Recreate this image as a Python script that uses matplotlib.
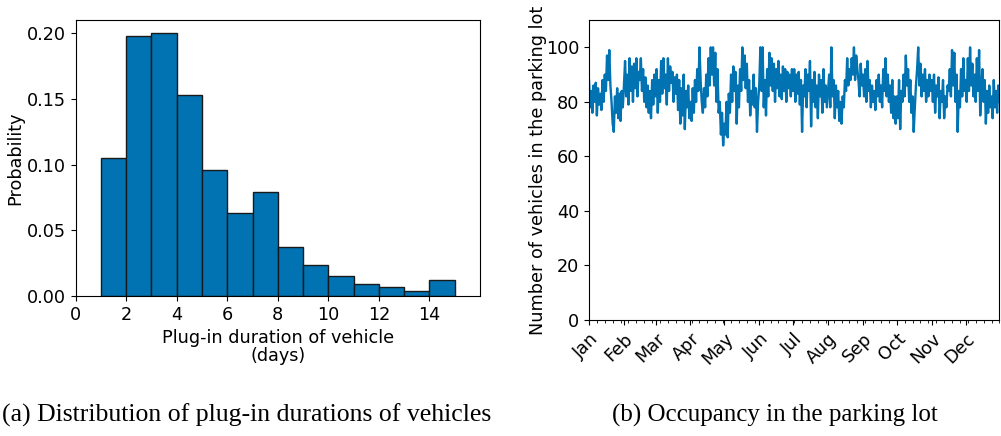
"""
Plug-in durations histogram and parking lot occupancy over a year
"""
import numpy as np
import pandas as pd
import matplotlib
matplotlib.use("Agg")
import matplotlib.pyplot as plt
import matplotlib.dates as mdates
from matplotlib.ticker import FormatStrFormatter

# histogram of plug-in durations (bin edges in days, probability per bin)
bin_edges = list(range(1, 16))
probabilities = [0.105, 0.198, 0.200, 0.153, 0.096, 0.063, 0.079,
                 0.037, 0.024, 0.015, 0.009, 0.007, 0.004, 0.012]

# daily occupancy, one list per month
jan = [88, 78, 84, 76, 86, 80, 87, 75, 85, 79, 83, 77, 88, 80, 90, 84, 97, 88, 99, 86, 80, 72, 69, 82, 76, 85, 74, 83, 73, 84, 78]
feb = [86, 95, 82, 90, 79, 96, 84, 93, 80, 94, 85, 96, 82, 91, 88, 96, 84, 92, 80, 89, 78, 86, 76, 84, 74, 88, 79, 90]
mar = [82, 92, 76, 88, 80, 95, 83, 96, 85, 90, 79, 96, 84, 93, 87, 91, 80, 89, 83, 90, 77, 88, 72, 85, 75, 90, 70, 84, 78, 86, 74]
apr = [80, 73, 85, 76, 88, 80, 92, 84, 100, 88, 80, 76, 85, 78, 90, 82, 96, 86, 100, 90, 100, 86, 98, 80, 92, 76, 80, 68, 76, 64]
may = [72, 68, 80, 67, 83, 76, 90, 80, 93, 84, 91, 72, 86, 78, 92, 84, 100, 88, 97, 85, 94, 80, 88, 75, 84, 79, 90, 78, 85, 69, 80]
jun = [86, 100, 84, 100, 78, 88, 75, 92, 82, 98, 86, 96, 84, 94, 80, 92, 85, 95, 82, 90, 81, 93, 84, 92, 80, 91, 85, 90, 82, 92]
jul = [84, 92, 80, 90, 83, 91, 79, 88, 69, 86, 82, 92, 78, 90, 84, 95, 71, 88, 80, 91, 78, 86, 74, 90, 82, 88, 76, 92, 80, 86, 78]
aug = [84, 90, 78, 100, 82, 88, 74, 86, 78, 84, 73, 80, 72, 82, 78, 88, 84, 96, 86, 92, 88, 96, 90, 100, 88, 97, 92, 88, 82, 94, 86]
sep = [90, 82, 92, 80, 95, 84, 88, 78, 86, 80, 84, 77, 88, 82, 90, 80, 86, 78, 92, 84, 96, 82, 90, 80, 86, 76, 88, 74, 82, 72]
oct = [82, 74, 88, 70, 84, 80, 90, 82, 97, 86, 92, 80, 88, 76, 82, 69, 78, 86, 92, 100, 86, 94, 82, 90, 84, 92, 80, 88, 82, 90, 84]
nov = [88, 80, 90, 76, 86, 82, 89, 74, 84, 80, 88, 74, 82, 78, 86, 84, 92, 82, 99, 86, 98, 80, 90, 69, 84, 78, 92, 82, 96, 84]
dec = [88, 80, 96, 84, 100, 86, 94, 82, 90, 80, 96, 84, 99, 75, 86, 92, 80, 88, 72, 84, 76, 86, 78, 82, 74, 88, 78, 84, 76, 86, 80]

occupancy = jan + feb + mar + apr + may + jun + jul + aug + sep + oct + nov + dec
days = pd.date_range("2019-01-01", periods=len(occupancy), freq="D")

blue = "#0173B2"
plt.rcParams["font.family"] = "DejaVu Sans"
fs = 12.7

fig = plt.figure(figsize=(10.01, 4.36), dpi=100)

# (a) histogram
ax1 = fig.add_axes([0.0755, 0.321, 0.404, 0.633])
ax1.bar(bin_edges[:-1], probabilities, width=1, align="edge",
        color=blue, edgecolor="#1a1a1a", linewidth=1.0)
ax1.set_xlim(0, 16)
ax1.set_ylim(0, 0.21)
ax1.set_xticks(range(0, 15, 2))
ax1.set_yticks([0, 0.05, 0.10, 0.15, 0.20])
ax1.yaxis.set_major_formatter(FormatStrFormatter("%.2f"))
ax1.tick_params(labelsize=fs)
ax1.set_xlabel("Plug-in duration of vehicle\n(days)", fontsize=fs, linespacing=1.0)
ax1.set_ylabel("Probability", fontsize=fs, labelpad=2)

# (b) occupancy
ax2 = fig.add_axes([0.5884, 0.266, 0.41, 0.688])
ax2.plot(days, occupancy, color=blue, linewidth=1.7)
ax2.set_xlim(pd.Timestamp("2019-01-01"), pd.Timestamp("2019-12-31"))
ax2.set_ylim(0, 110)
ax2.set_yticks(range(0, 101, 20))
ax2.xaxis.set_major_locator(mdates.MonthLocator())
ax2.xaxis.set_major_formatter(mdates.DateFormatter("%b"))
ax2.xaxis.set_minor_locator(mdates.DayLocator(interval=7))
ax2.tick_params(labelsize=fs)
plt.setp(ax2.get_xticklabels(), rotation=45, ha="right", rotation_mode="anchor")
ax2.set_ylabel("Number of vehicles in the parking lot", fontsize=fs, labelpad=-1)

# captions
fig.text(0.2465, 0.048, "(a) Distribution of plug-in durations of vehicles",
         family="Liberation Serif", fontsize=18.5, ha="center", va="center")
fig.text(0.774, 0.048, "(b) Occupancy in the parking lot",
         family="Liberation Serif", fontsize=18, ha="center", va="center")

fig.savefig("out.png", dpi=100)
